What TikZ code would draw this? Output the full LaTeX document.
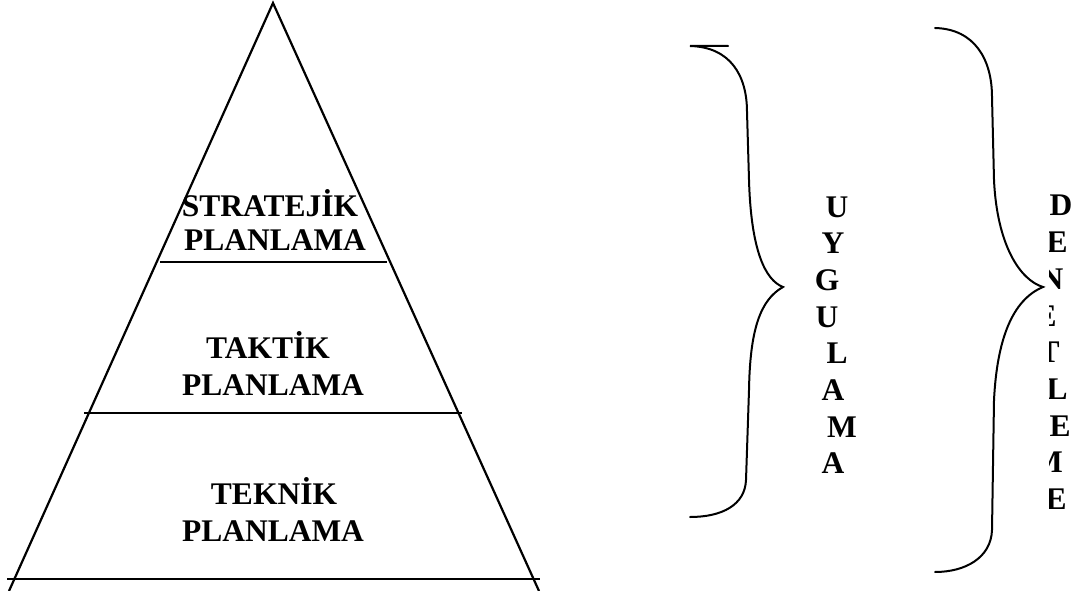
\documentclass[tikz,border=0pt]{standalone}
\usepackage{fontspec}
\setmainfont{Liberation Serif}
\begin{document}
\begin{tikzpicture}[x=1pt,y=-1pt,
  ln/.style={line width=2.2pt,black},
  br/.style={line width=2pt,black,line cap=round},
  lbl/.style={font=\fontsize{31.5}{37}\selectfont\bfseries,anchor=base,inner sep=0pt},
  let/.style={font=\fontsize{31.5}{37}\selectfont\bfseries,anchor=base,inner sep=0pt}]
\useasboundingbox (0,0) rectangle (1073,591);
% pyramid
\coordinate (apex) at (273,3);
\coordinate (bl) at (9,591);
\coordinate (brr) at (539,591);
\coordinate (b0l) at (7,579);
\coordinate (b0r) at (540,579);
\coordinate (l1l) at (160,262);
\coordinate (l1r) at (387,262);
\coordinate (l2l) at (84,413);
\coordinate (l2r) at (462,413);
\draw[ln] (bl) -- (apex) -- (brr);
\draw[ln] (b0l) -- (b0r);
\draw[ln] (l1l) -- (l1r);
\draw[ln] (l2l) -- (l2r);
% texts
\node[lbl] (s1) at (270,216) {STRATEJİK};
\node[lbl] (s2) at (275,250) {PLANLAMA};
\node[lbl] (t1) at (268,358) {TAKTİK};
\node[lbl] (t2) at (273,395) {PLANLAMA};
\node[lbl] (k1) at (274,504) {TEKNİK};
\node[lbl] (k2) at (273,541) {PLANLAMA};
% brace 1
\coordinate (a0) at (690,46);
\coordinate (a0s) at (728,46);
\coordinate (a1) at (747,112);
\coordinate (a2) at (749,180);
\coordinate (atip) at (783,287);
\coordinate (a3) at (749,390);
\coordinate (a4) at (746,480);
\coordinate (a5) at (690,517);
\draw[br] (a0s) -- (a0) .. controls (730,47) and (747,75) .. (a1)
  -- (a2) .. controls (751,250) and (765,280) .. (atip)
  .. controls (760,300) and (750,330) .. (a3)
  -- (a4) .. controls (745,505) and (722,517) .. (a5);
% brace 2
\coordinate (c0) at (935,28);
\coordinate (c1) at (992,97);
\coordinate (c2) at (994,180);
\coordinate (ctip) at (1043,287);
\coordinate (c3) at (994,400);
\coordinate (c4) at (992,530);
\coordinate (c5) at (935,572);
\draw[br] (c0) .. controls (975,29) and (992,60) .. (c1)
  -- (c2) .. controls (997,245) and (1020,280) .. (ctip)
  .. controls (1012,300) and (997,340) .. (c3)
  -- (c4) .. controls (991,558) and (965,572) .. (c5);
% UYGULAMA
\foreach \L/\X/\Y [count=\i] in {U/837/217,Y/833/253,G/827/290,U/827/327,L/837/363,A/833/400,M/842/437,A/833/473}
  \node[let] (u\i) at (\X,\Y) {\L};
% DENETLEME (clipped on its left side)
\begin{scope}
\clip (1049,150) rectangle (1073,560);
\foreach \L/\X/\Y [count=\i] in {D/1061/215,E/1057/252,N/1052/289,E/1046/326,T/1049/362,L/1057/399,E/1060/436,M/1048/472,E/1056/509}
  \node[let] (d\i) at (\X,\Y) {\L};
\end{scope}
\end{tikzpicture}
\end{document}
